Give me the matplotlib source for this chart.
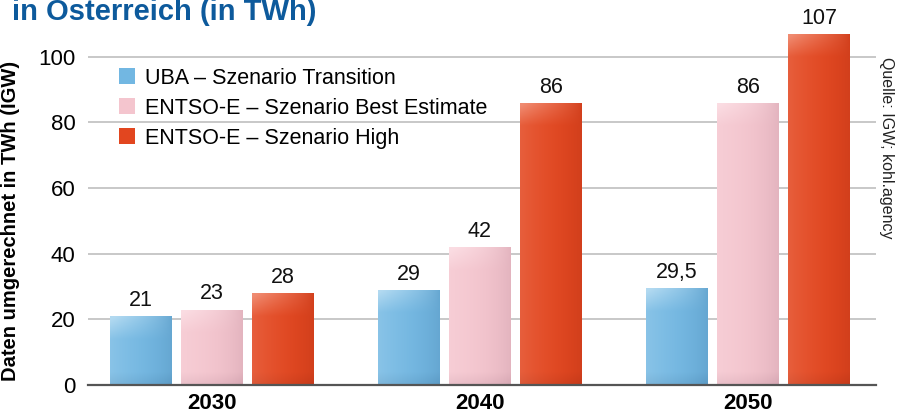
"""Bar chart: scenario comparison in TWh."""

import matplotlib.pyplot as plt
import numpy as np
from matplotlib.colors import to_rgb

plt.rcParams["font.family"] = ["Liberation Sans", "DejaVu Sans"]

years = ["2030", "2040", "2050"]
series = [
    "UBA – Szenario Transition",
    "ENTSO-E – Szenario Best Estimate",
    "ENTSO-E – Szenario High",
]
uba = [21, 29, 29.5]
best = [23, 42, 86]
high = [28, 86, 107]
value_labels = [["21", "29", "29,5"], ["23", "42", "86"], ["28", "86", "107"]]
colors = ["#72b7e2", "#f4c5ce", "#e2461f"]
lights = ["#b3daf1", "#fbdde3", "#f08c72"]
darks = ["#5c9ac4", "#d6a7b3", "#c53a1a"]

fig = plt.figure(figsize=(9.04, 4.19), dpi=100)
ax = fig.add_axes([0.0973, 0.0811, 0.8717, 0.8616])

x = np.arange(len(years))
width = 0.231
offset = 0.265


def shade(ax, bar, base, light, dark):
    # soft gradient: lighter top-left, darker right and bottom
    h = bar.get_height()
    x0 = bar.get_x()
    x1 = x0 + bar.get_width()
    ny, nx = 300, 60
    yy = np.linspace(0, h, ny)[:, None]
    uu = np.linspace(0, 1, nx)[None, :]
    base, light, dark = (np.array(to_rgb(c)) for c in (base, light, dark))
    top = np.clip(1 - (h - yy) / 7.0, 0, 1)
    lt = np.clip(0.35 * (1 - uu) ** 2 + 0.75 * top * (1 - uu) ** 0.7, 0, 1)
    dk = np.clip(0.55 * uu ** 3 + 0.45 * np.clip(1 - yy / 4.0, 0, 1), 0, 1)
    img = base[None, None, :] * (1 - lt - dk)[..., None] \
        + light[None, None, :] * lt[..., None] + dark[None, None, :] * dk[..., None]
    img = np.clip(img, 0, 1)
    im = ax.imshow(img, extent=[x0, x1, 0, h], origin="lower", aspect="auto",
                   zorder=3, interpolation="bilinear")
    im.set_clip_path(bar)


for i, (vals, lab, col) in enumerate(zip([uba, best, high], series, colors)):
    bars = ax.bar(x + (i - 1) * offset, vals, width, color=col, label=lab, zorder=2,
                  linewidth=0)
    for b, txt in zip(bars, value_labels[i]):
        shade(ax, b, col, lights[i], darks[i])
        ax.text(b.get_x() + b.get_width() / 2, b.get_height() + 1.6, txt,
                ha="center", va="bottom", fontsize=15.5, color="#111111")

ax.set_xlim(-0.463, 2.478)
ax.set_ylim(0, 110)
ax.set_yticks([0, 20, 40, 60, 80, 100])
ax.set_xticks(x)
ax.set_xticklabels(years, fontweight="bold", fontsize=16)
ax.tick_params(axis="y", length=0, labelsize=16, pad=9)
ax.tick_params(axis="x", length=0, pad=6)
ax.grid(axis="y", color="#c4c4c4", linewidth=1.3, zorder=0)
for s in ["top", "right", "left"]:
    ax.spines[s].set_visible(False)
ax.spines["bottom"].set_color("#555555")
ax.spines["bottom"].set_linewidth(1.6)
ax.spines["bottom"].set_zorder(4)

ax.set_ylabel("Daten umgerechnet in TWh (IGW)", fontweight="bold", fontsize=14.5)
ax.yaxis.set_label_coords(-0.0863, 0.454)

ax.legend(loc="upper left", bbox_to_anchor=(0.015, 0.933), frameon=False, fontsize=15.5,
          handlelength=0.75, handleheight=0.75, handletextpad=0.45, labelspacing=0.42)

fig.text(0.013, 0.952, "in Österreich (in TWh)", fontsize=21, fontweight="bold",
         color="#0d5a9c", va="baseline", ha="left")
fig.text(0.981, 0.864, "Quelle: IGW; kohl.agency", rotation=-90, fontsize=11.5,
         color="#222222", va="top", ha="center")

fig.savefig("out.png", dpi=100)
